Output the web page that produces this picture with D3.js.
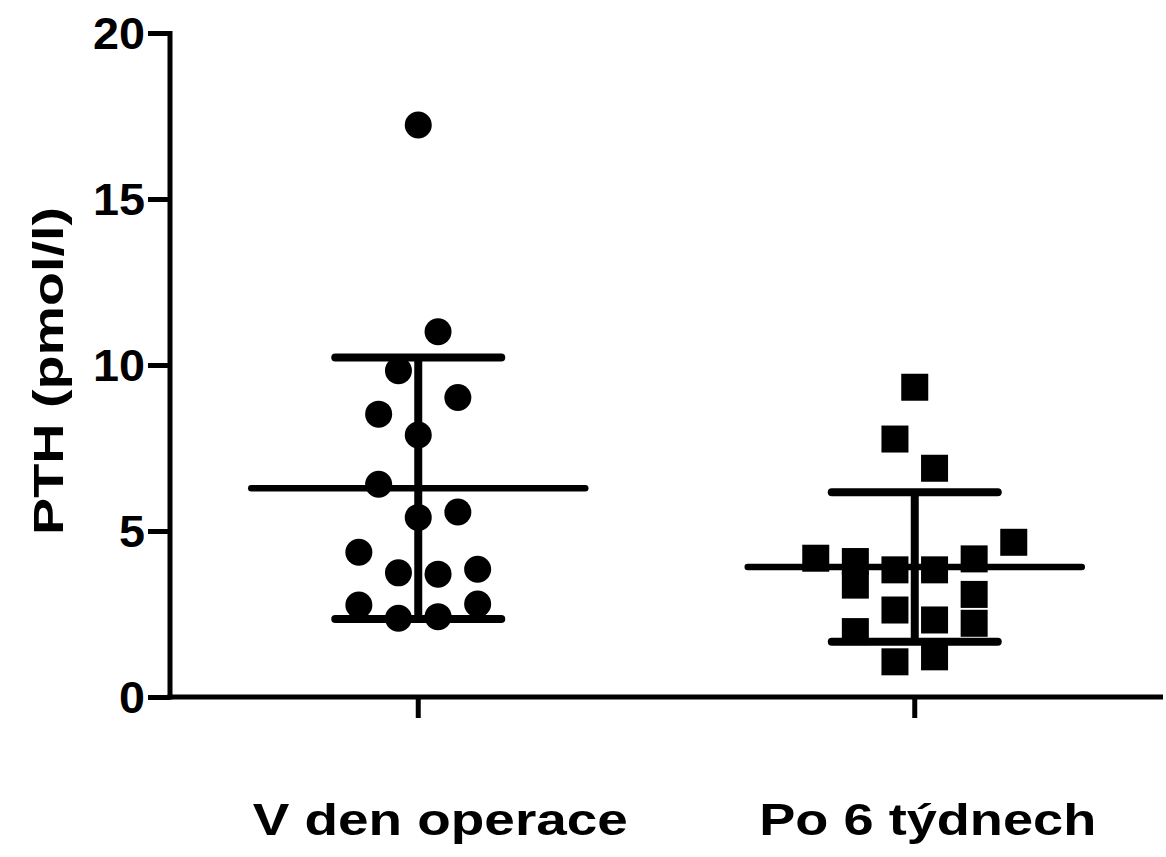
<!DOCTYPE html>
<html>
<head>
<meta charset="utf-8">
<script src="https://cdn.jsdelivr.net/npm/d3@7.9.0/dist/d3.min.js"></script>
<style>
  body { margin: 0; background: #fff; }
  svg { display: block; }
  text { font-family: Arial, "Liberation Sans", sans-serif; font-weight: bold; fill: #000; }
</style>
</head>
<body>
<svg id="chart" width="1166" height="857"></svg>
<script>
const categories = ['V den operace', 'Po 6 týdnech'];

// PTH values (pmol/l), with the column slot each dot sits in
const dayOfSurgery = [17.23, 11.0, 9.83, 9.02, 8.52, 7.89, 6.41, 5.41, 5.57, 4.36, 3.74, 3.70, 3.85, 2.77, 2.80, 2.37, 2.42];
const dayOfSurgerySlot = [0, 1, -1, 2, -2, 0, -2, 0, 2, -3, -1, 1, 3, -3, 3, -1, 1];

const after6Weeks = [9.33, 7.77, 6.89, 4.66, 4.18, 4.08, 3.37, 3.83, 3.83, 4.16, 3.09, 2.62, 2.32, 2.22, 1.97, 1.06, 1.21];
const after6WeeksSlot = [0, -1, 1, 5, -5, -3, -3, -1, 1, 3, 3, -1, 1, 3, -3, -1, 1];

const yTicks = [0, 5, 10, 15, 20];

const groups = [
  { name: categories[0], values: dayOfSurgery, slots: dayOfSurgerySlot, shape: 'circle' },
  { name: categories[1], values: after6Weeks, slots: after6WeeksSlot, shape: 'square' }
];

const svg = d3.select('#chart');

const x = d3.scaleBand().domain(categories).range([170, 1163]).padding(0);
const y = d3.scaleLinear().domain([0, 20]).range([697, 33]);
const slot = d3.scaleLinear().domain([-1, 1]).range([-19.8, 19.8]);
const cx = name => x(name) + x.bandwidth() / 2;

// axes
const yAxis = svg.append('g')
  .attr('transform', 'translate(170,0)')
  .call(d3.axisLeft(y).tickValues(yTicks).tickSize(22).tickSizeOuter(0).tickPadding(3));
const xAxis = svg.append('g')
  .attr('transform', 'translate(0,697)')
  .call(d3.axisBottom(x).tickSize(21).tickSizeOuter(0).tickFormat(''));

[yAxis, xAxis].forEach(g => {
  g.select('.domain').attr('stroke', '#000').attr('stroke-width', 5);
  g.selectAll('.tick line').attr('stroke', '#000').attr('stroke-width', 5);
});
yAxis.select('.domain').attr('d', 'M0,31V699.5');
xAxis.select('.domain').attr('d', 'M167.5,0H1163');
yAxis.selectAll('.tick text')
  .attr('font-size', 44)
  .attr('font-family', 'Arial, "Liberation Sans", sans-serif')
  .attr('font-weight', 'bold')
  .attr('fill', '#000')
  .attr('dy', '0.36em')
  .attr('textLength', d => String(d).length * 26)
  .attr('lengthAdjust', 'spacingAndGlyphs');

// category labels
const labelShift = [22, 13];
const labelWidth = [375, 337];
categories.forEach((c, i) => {
  svg.append('text')
    .attr('x', cx(c) + labelShift[i])
    .attr('y', 835)
    .attr('text-anchor', 'middle')
    .attr('font-size', 44)
    .attr('textLength', labelWidth[i])
    .attr('lengthAdjust', 'spacingAndGlyphs')
    .text(c);
});

// y axis title
svg.append('text')
  .attr('transform', 'translate(63,371) rotate(-90)')
  .attr('text-anchor', 'middle')
  .attr('font-size', 42)
  .attr('textLength', 328)
  .attr('lengthAdjust', 'spacingAndGlyphs')
  .text('PTH (pmol/l)');

// points, then mean and SD lines on top
groups.forEach(g => {
  const c = cx(g.name);
  const layer = svg.append('g');
  if (g.shape === 'circle') {
    layer.selectAll('circle').data(g.values).join('circle')
      .attr('cx', (d, i) => c + slot(g.slots[i]))
      .attr('cy', d => y(d))
      .attr('r', 13.5)
      .attr('fill', '#000');
  } else {
    layer.selectAll('rect').data(g.values).join('rect')
      .attr('x', (d, i) => c + slot(g.slots[i]) - 13.5)
      .attr('y', d => y(d) - 13.5)
      .attr('width', 27)
      .attr('height', 27)
      .attr('fill', '#000');
  }

  const mean = d3.mean(g.values);
  const sd = d3.deviation(g.values);
  const lines = svg.append('g').attr('stroke', '#000').attr('stroke-linecap', 'round');
  lines.append('line')
    .attr('x1', c - 167).attr('x2', c + 167)
    .attr('y1', y(mean)).attr('y2', y(mean))
    .attr('stroke-width', 6.5);
  lines.append('line')
    .attr('x1', c).attr('x2', c)
    .attr('y1', y(mean - sd)).attr('y2', y(mean + sd))
    .attr('stroke-width', 8)
    .attr('stroke-linecap', 'butt');
  [mean - sd, mean + sd].forEach(v => {
    lines.append('line')
      .attr('x1', c - 83).attr('x2', c + 83)
      .attr('y1', y(v)).attr('y2', y(v))
      .attr('stroke-width', 8);
  });
});
</script>
</body>
</html>
